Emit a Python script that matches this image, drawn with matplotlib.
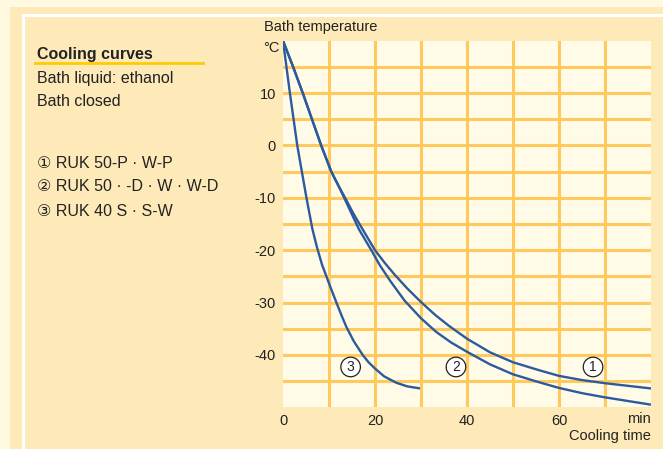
import matplotlib
matplotlib.use("Agg")
import matplotlib.pyplot as plt
from matplotlib.patches import Rectangle
from matplotlib.lines import Line2D

# cooling curves (time in min, temperature in degC)
t1 = [0, 2.2, 4.3, 6.3, 8.3, 10.5, 12, 13.5, 15.3, 17.3, 20, 22, 24.2, 27, 30, 33, 36, 40, 45, 50, 55.6, 60, 65, 70, 75, 80]
T1 = [20, 15, 10, 5, 0, -5, -7.6, -10, -13, -16, -20, -22.3, -24.6, -27.3, -29.9, -32.3, -34.4, -36.9, -39.5, -41.4, -42.9, -44, -44.8, -45.4, -45.9, -46.4]

t2 = [0, 2.2, 4.3, 6.3, 8.3, 10.5, 12, 13.3, 14.9, 16.5, 19.2, 21, 23.1, 26.4, 30, 33.3, 36.5, 40, 45, 50, 55.6, 60, 65, 70, 75, 80]
T2 = [20, 15, 10, 5, 0, -5, -7.6, -10, -13, -16, -20, -22.8, -25.6, -29.6, -33.0, -35.6, -37.6, -39.4, -41.8, -43.7, -45.2, -46.3, -47.3, -48.1, -48.8, -49.5]

t3 = [0, 1.5, 3.1, 4.1, 5.1, 6.4, 7.4, 8.5, 10.2, 11.7, 12.7, 13.8, 15.4, 17.4, 18.6, 20, 22, 24.6, 27, 29.8]
T3 = [20, 10, 0, -5, -10, -16, -19.5, -22.8, -26.8, -30.2, -32.4, -34.7, -37.4, -40.1, -41.4, -42.6, -44.1, -45.3, -46, -46.4]

curve_labels = ["1", "2", "3"]
label_t = [67.4, 37.6, 14.7]
label_T = [-42.3, -42.3, -42.3]

xticks = [0, 20, 40, 60]
yticks = [10, 0, -10, -20, -30, -40]
legend_lines = ["\u2460 RUK 50-P \u00b7 W-P",
                "\u2461 RUK 50 \u00b7 -D \u00b7 W \u00b7 W-D",
                "\u2462 RUK 40 S \u00b7 S-W"]

FONT = ["Liberation Sans Narrow", "Liberation Sans", "DejaVu Sans"]
plt.rcParams["font.family"] = FONT
TXT = "#222222"
GRID = "#FFC95E"
BLUE = "#2C5A9E"

W, H = 663, 449
fig = plt.figure(figsize=(W / 100, H / 100), dpi=100, facecolor="#FFF9E2")

def fx(px):
    return px / W

def fy(py):
    return 1 - py / H

# panel background + white frame line
fig.patches.append(Rectangle((fx(10), 0), 1, fy(7), transform=fig.transFigure,
                             facecolor="#FEE9B8", edgecolor="none", zorder=-5))
fig.lines.append(Line2D([fx(23), fx(23)], [0, fy(15)], transform=fig.transFigure,
                        color="white", lw=2.2, zorder=-4))
fig.lines.append(Line2D([fx(23), 1], [fy(15), fy(15)], transform=fig.transFigure,
                        color="white", lw=2.2, zorder=-4))

ax = fig.add_axes([fx(283), fy(407.3), fx(651) - fx(283), fy(40.7) - fy(407.3)])
ax.set_zorder(2)
ax.set_facecolor("#FFFBE6")
ax.set_xlim(0, 80)
ax.set_ylim(-50, 20)
for s in ax.spines.values():
    s.set_visible(False)

for x in range(10, 80, 10):
    ax.axvline(x, color=GRID, lw=2.2, zorder=1)
for y in range(-45, 20, 5):
    ax.axhline(y, color=GRID, lw=2.2, zorder=1)

for t, T in [(t1, T1), (t2, T2), (t3, T3)]:
    ax.plot(t, T, color=BLUE, lw=1.7, zorder=3, solid_capstyle="butt",
            solid_joinstyle="round")

for lab, x, y in zip(curve_labels, label_t, label_T):
    ax.text(x, y, lab, ha="center", va="center", fontsize=10, color=TXT, zorder=4,
            bbox=dict(boxstyle="circle,pad=0.2", fc="white", ec=TXT, lw=0.9))

ax.set_xticks(xticks)
ax.set_yticks(yticks)
ax.set_xticklabels([str(v) for v in xticks])
ax.set_yticklabels([str(v) for v in yticks])
ax.tick_params(length=0, labelsize=10.5, labelcolor=TXT)
ax.tick_params(axis="y", pad=5)
ax.tick_params(axis="x", pad=5)

fig.text(fx(279), fy(48), "\u00b0C", ha="right", va="center", fontsize=10.5, color=TXT)
fig.text(fx(651), fy(419), "min", ha="right", va="center", fontsize=10.5, color=TXT)
fig.text(fx(651), fy(436), "Cooling time", ha="right", va="center", fontsize=10.5, color=TXT)
fig.text(fx(264), fy(27), "Bath temperature", ha="left", va="center", fontsize=10.5, color=TXT)

# left description block
fig.text(fx(37), fy(55), "Cooling curves", ha="left", va="center", fontsize=11.5,
         fontweight="bold", color=TXT)
fig.lines.append(Line2D([fx(35), fx(203)], [fy(63), fy(63)], transform=fig.transFigure,
                        color="#FFCC00", lw=2.0))
fig.text(fx(37), fy(78), "Bath liquid: ethanol", ha="left", va="center", fontsize=11.5, color=TXT)
fig.text(fx(37), fy(102), "Bath closed", ha="left", va="center", fontsize=11.5, color=TXT)
for i, line in enumerate(legend_lines):
    fig.text(fx(37), fy(163 + 24 * i), line, ha="left", va="center", fontsize=11.5, color=TXT)

fig.savefig("out.png", dpi=100, facecolor=fig.get_facecolor())
